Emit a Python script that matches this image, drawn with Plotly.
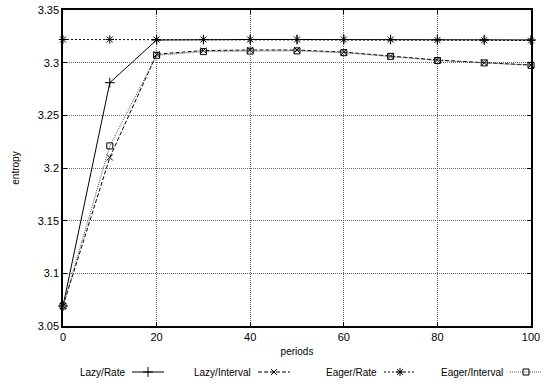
import plotly.graph_objects as go

periods = [0, 10, 20, 30, 40, 50, 60, 70, 80, 90, 100]
lazy_rate = [3.069, 3.281, 3.3215, 3.322, 3.322, 3.322, 3.322, 3.322, 3.322, 3.3218, 3.3216]
lazy_interval = [3.069, 3.210, 3.308, 3.3115, 3.312, 3.312, 3.310, 3.3063, 3.3025, 3.300, 3.2978]
eager_rate = [3.322, 3.322, 3.322, 3.322, 3.322, 3.322, 3.322, 3.3218, 3.3215, 3.3213, 3.321]
eager_interval = [3.069, 3.221, 3.307, 3.3105, 3.311, 3.3112, 3.3095, 3.306, 3.302, 3.2998, 3.2975]

names = ["Lazy/Rate", "Lazy/Interval", "Eager/Rate", "Eager/Interval"]
series = [lazy_rate, lazy_interval, eager_rate, eager_interval]
styles = [
    dict(color="black", dash="solid", symbol="cross-thin-open", size=7),
    dict(color="black", dash="4px,2px", symbol="x-thin-open", size=6),
    dict(color="black", dash="2px,2px", symbol="asterisk-open", size=7),
    dict(color="#555555", dash="1px,1px", symbol="square-open", size=6),
]

FONT = "Liberation Sans, Arial, Helvetica, sans-serif"
fig = go.Figure()
for nm, ys, st in zip(names, series, styles):
    fig.add_trace(go.Scatter(
        x=periods, y=ys, name=nm, mode="lines+markers",
        line=dict(color=st["color"], width=1, dash=st["dash"]),
        marker=dict(symbol=st["symbol"], size=st["size"], color="black",
                    line=dict(color="black", width=1)),
        showlegend=False, cliponaxis=False,
    ))

# custom gnuplot-style legend (text then sample) on an auxiliary pixel axis
leg_text_end = [127, 253, 379, 505]
leg_y = 372
for nm, st, te in zip(names, styles, leg_text_end):
    x0, x1 = te + 5, te + 37
    fig.add_trace(go.Scatter(
        x=[x0, x1], y=[leg_y, leg_y], mode="lines", xaxis="x2", yaxis="y2",
        line=dict(color=st["color"], width=1, dash=st["dash"]), showlegend=False,
        hoverinfo="skip", cliponaxis=False))
    fig.add_trace(go.Scatter(
        x=[(x0 + x1) / 2], y=[leg_y], mode="markers", xaxis="x2", yaxis="y2",
        marker=dict(symbol=st["symbol"], size=st["size"], color="black",
                    line=dict(color="black", width=1)), showlegend=False,
        hoverinfo="skip", cliponaxis=False))
    fig.add_annotation(x=te, y=leg_y, xref="x2", yref="y2", text=nm,
                       showarrow=False, xanchor="right", yanchor="middle",
                       font=dict(size=10, color="black", family=FONT))

W, H = 544, 388
L, R, T, B = 63, 0, 10, 0
pw, ph = W - L - R, H - T - B
grid = dict(showgrid=True, gridcolor="#666666", griddash="1px,1px", gridwidth=1,
            zeroline=False, showline=True, linecolor="black", linewidth=1.5,
            mirror="allticks", ticks="inside", ticklen=4, tickcolor="black",
            tickfont=dict(size=11), automargin=False)
fig.update_layout(
    width=W, height=H,
    margin=dict(l=L, r=R, t=T, b=B, autoexpand=False),
    plot_bgcolor="white", paper_bgcolor="white",
    font=dict(family=FONT, size=11, color="black"),
    xaxis=dict(domain=[0, (531 - L) / pw], range=[0, 100], tickvals=[0, 20, 40, 60, 80, 100],
               title=dict(text="periods", font=dict(size=10), standoff=6), **grid),
    yaxis=dict(domain=[(H - 326) / ph, 1], range=[3.05, 3.35],
               tickvals=[3.05, 3.1, 3.15, 3.2, 3.25, 3.3, 3.35],
               ticktext=["3.05", "3.1", "3.15", "3.2", "3.25", "3.3", "3.35"],
               title=dict(text="entropy", font=dict(size=10), standoff=16), **grid),
    xaxis2=dict(domain=[0, 1], range=[L, W], visible=False, anchor="y2", automargin=False),
    yaxis2=dict(domain=[0, (H - 350) / ph], range=[H, 350], visible=False, anchor="x2",
                automargin=False),
)
fig.write_html("out.html")
